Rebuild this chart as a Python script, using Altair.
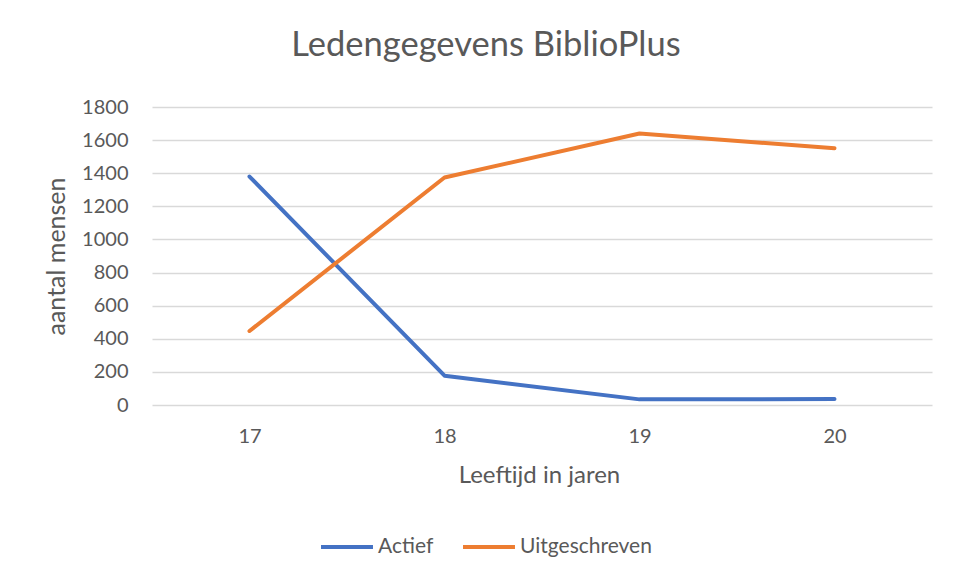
import altair as alt
import pandas as pd

ages = ["17", "18", "19", "20"]
actief = [1380, 177, 34, 36]
uitgeschreven = [447, 1374, 1640, 1551]
series_names = ["Actief", "Uitgeschreven"]
colors = ["#4472C4", "#ED7D31"]
y_ticks = [0, 200, 400, 600, 800, 1000, 1200, 1400, 1600, 1800]

rows = []
for a, v in zip(ages, actief):
    rows.append({"leeftijd": a, "reeks": series_names[0], "aantal": v})
for a, v in zip(ages, uitgeschreven):
    rows.append({"leeftijd": a, "reeks": series_names[1], "aantal": v})
df = pd.DataFrame(rows)

FONT = "Lato"
GRAY = "#595959"

chart = alt.Chart(df).mark_line(strokeWidth=4, strokeCap="round", strokeJoin="round").encode(
    x=alt.X("leeftijd:O", sort=ages, scale=alt.Scale(type="point", padding=0.5),
            axis=alt.Axis(title="Leeftijd in jaren", labelAngle=0, grid=False, domain=False, ticks=False,
                          labelPadding=21, titleX=387, titleY=70, titleBaseline="middle",
                          titleFontSize=24, titleFontWeight="normal", titleColor=GRAY,
                          labelFontSize=20, labelColor=GRAY)),
    y=alt.Y("aantal:Q", scale=alt.Scale(domain=[0, 1800], nice=False),
            axis=alt.Axis(title="aantal mensen", values=y_ticks, format="d", domain=False, ticks=False,
                          gridColor="#D9D9D9", gridWidth=1.3, labelPadding=24,
                          titleX=-96, titleY=149, titleAngle=-90, titleAlign="center", titleBaseline="middle",
                          titleFontSize=25, titleFontWeight="normal", titleColor=GRAY,
                          labelFontSize=20, labelColor=GRAY)),
    color=alt.Color("reeks:N", scale=alt.Scale(domain=series_names, range=colors),
                    legend=alt.Legend(title=None, orient="none", direction="horizontal",
                                      legendX=167, legendY=412, symbolType="stroke",
                                      symbolSize=2700, symbolStrokeWidth=4,
                                      labelFontSize=21, labelColor=GRAY, labelOffset=3,
                                      columnPadding=21)),
).properties(
    width=780,
    height=298,
    autosize=alt.AutoSizeParams(type="none"),
    padding={"left": 144, "top": 99, "right": 17, "bottom": 168},
    title=alt.Title("Ledengegevens BiblioPlus", fontSize=34.5, font=FONT, fontWeight="normal",
                    color=GRAY, anchor="middle", dx=-56, offset=34),
).configure(
    font=FONT,
    background="white",
).configure_view(stroke=None)

chart.save("out.html", embed_options={"renderer": "svg", "actions": False})
